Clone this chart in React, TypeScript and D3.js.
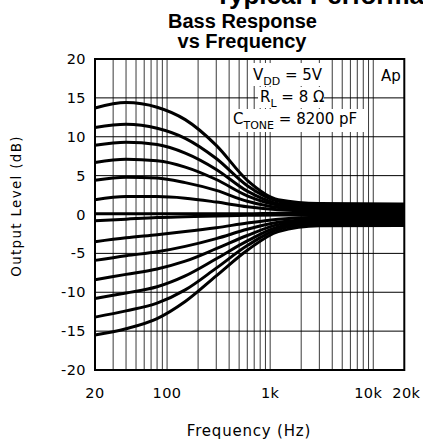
import React from "react";
import * as d3 from "d3";

const FREQS = [20, 40, 80, 150, 300, 600, 1200, 3000, 20000];
const CURVE_P1 = [13.7, 14.4, 13.8, 12.2, 8.9, 4.4, 1.9, 1.4, 1.35];
const CURVE_P2 = [11.2, 11.6, 11.1, 9.8, 7.2, 3.7, 1.7, 1.2, 1.15];
const CURVE_P3 = [8.9, 9.3, 9.0, 7.9, 5.8, 3.0, 1.4, 1.0, 0.95];
const CURVE_P4 = [6.7, 7.1, 6.9, 6.1, 4.5, 2.4, 1.2, 0.8, 0.75];
const CURVE_P5 = [4.4, 4.8, 4.7, 4.1, 3.1, 1.7, 0.9, 0.6, 0.55];
const CURVE_P6 = [1.9, 2.3, 2.3, 2.1, 1.6, 1.0, 0.6, 0.4, 0.35];
const CURVE_Z = [0.1, 0.1, 0.1, 0.1, 0.1, 0.1, 0.15, 0.15, 0.15];
const CURVE_N1 = [-0.8, -0.6, -0.4, -0.3, -0.2, -0.1, -0.05, -0.1, -0.1];
const CURVE_N2 = [-3.5, -3.0, -2.6, -2.2, -1.7, -1.1, -0.6, -0.35, -0.35];
const CURVE_N3 = [-5.9, -5.3, -4.8, -4.1, -3.1, -1.9, -1.0, -0.6, -0.55];
const CURVE_N4 = [-8.4, -7.7, -7.0, -6.0, -4.4, -2.7, -1.3, -0.8, -0.75];
const CURVE_N5 = [-10.8, -10.1, -9.3, -7.9, -5.7, -3.4, -1.6, -1.0, -0.95];
const CURVE_N6 = [-13.2, -12.4, -11.4, -9.7, -6.9, -4.0, -1.9, -1.2, -1.15];
const CURVE_N7 = [-15.5, -14.7, -13.4, -11.2, -7.9, -4.6, -2.2, -1.45, -1.4];

const SERIES = [
  CURVE_P1, CURVE_P2, CURVE_P3, CURVE_P4, CURVE_P5, CURVE_P6, CURVE_Z,
  CURVE_N1, CURVE_N2, CURVE_N3, CURVE_N4, CURVE_N5, CURVE_N6, CURVE_N7,
];

const X_GRID = [30, 40, 50, 60, 70, 80, 90, 100, 200, 300, 400, 500, 600, 700, 800, 900,
  1000, 2000, 3000, 4000, 5000, 6000, 7000, 8000, 9000, 10000];
const X_TICKS = [20, 100, 1000, 10000, 20000];
const X_TICK_LABELS = ["20", "100", "1k", "10k", "20k"];
const Y_TICKS = [20, 15, 10, 5, 0, -5, -10, -15, -20];
const Y_TICK_LABELS = ["20", "15", "10", "5", "0", "-5", "-10", "-15", "-20"];

const FONT = "'DejaVu Sans', sans-serif";
const TITLE_FONT = "'Liberation Sans', Arial, sans-serif";

export default function App() {
  const left = 95, right = 404.3, top = 59, bottom = 370;
  const x = d3.scaleLog().domain([20, 20000]).range([left, right]);
  const y = d3.scaleLinear().domain([-20, 20]).range([bottom, top]);
  const line = d3
    .line<[number, number]>()
    .x((d) => x(d[0]))
    .y((d) => y(d[1]))
    .curve(d3.curveMonotoneX);

  const xTickShift = (f: number) => (f === 10000 ? -5 : f === 20000 ? 2 : 0);

  return (
    <svg
      width={423}
      height={440}
      style={{ position: "absolute", left: 0, top: 0, background: "#fff" }}
    >
      <rect x={0} y={0} width={423} height={440} fill="#fff" />
      {/* titles */}
      <text x={215} y={4} fontFamily={TITLE_FONT} fontWeight="bold" fontSize={26}>
        Typical Performance Characteristics
      </text>
      <text x={242.5} y={28} textAnchor="middle" fontFamily={TITLE_FONT} fontWeight="bold" fontSize={20}>
        Bass Response
      </text>
      <text x={242} y={47.5} textAnchor="middle" fontFamily={TITLE_FONT} fontWeight="bold" fontSize={20}>
        vs Frequency
      </text>

      {/* grid */}
      {X_GRID.map((f) => (
        <line key={"vx" + f} x1={x(f)} x2={x(f)} y1={top} y2={bottom} stroke="#3a3a3a" strokeWidth={1} />
      ))}
      {Y_TICKS.filter((v) => v !== 20 && v !== -20).map((v) => (
        <line key={"hy" + v} x1={left} x2={right} y1={y(v)} y2={y(v)} stroke="#000" strokeWidth={1} />
      ))}

      {/* annotation backgrounds */}
      <rect x={251} y={63} width={69} height={23} fill="#fff" />
      <rect x={258} y={87} width={66} height={21} fill="#fff" />
      <rect x={231} y={109} width={135} height={23} fill="#fff" />

      {/* curves */}
      {SERIES.map((vals, i) => (
        <path
          key={"c" + i}
          d={line(FREQS.map((f, j) => [f, vals[j]] as [number, number])) || ""}
          fill="none"
          stroke="#000"
          strokeWidth={3}
          strokeLinejoin="round"
        />
      ))}

      {/* frame */}
      <rect x={left} y={top} width={right - left} height={bottom - top} fill="none" stroke="#000" strokeWidth={2} />

      {/* annotations */}
      <g fontFamily={FONT} fontSize={15} fill="#000">
        <text x={253} y={80}>
          V<tspan fontSize={11} dy={5}>DD</tspan>
          <tspan dy={-5}> = 5V</tspan>
        </text>
        <text x={260} y={102}>
          R<tspan fontSize={11} dy={5}>L</tspan>
          <tspan dy={-5}> = 8 Ω</tspan>
        </text>
        <text x={233} y={124}>
          C<tspan fontSize={11} dy={5}>TONE</tspan>
          <tspan dy={-5}> = 8200 pF</tspan>
        </text>
        <text x={381} y={81}>Ap</text>
      </g>

      {/* tick labels */}
      <g fontFamily={FONT} fontSize={14.5} fill="#000" letterSpacing={0.4}>
        {Y_TICKS.map((v, i) => (
          <text key={"yt" + v} x={86} y={y(v) + 5} textAnchor="end">
            {Y_TICK_LABELS[i]}
          </text>
        ))}
        {X_TICKS.map((f, i) => (
          <text key={"xt" + f} x={x(f) + xTickShift(f)} y={398} textAnchor="middle">
            {X_TICK_LABELS[i]}
          </text>
        ))}
      </g>

      {/* axis titles */}
      <text x={249} y={436} textAnchor="middle" fontFamily={FONT} fontSize={15} letterSpacing={0.8}>
        Frequency (Hz)
      </text>
      <text
        transform={`translate(21, 206) rotate(-90)`}
        textAnchor="middle"
        fontFamily={FONT}
        fontSize={13.5}
        letterSpacing={1.3}
      >
        Output Level (dB)
      </text>
    </svg>
  );
}
